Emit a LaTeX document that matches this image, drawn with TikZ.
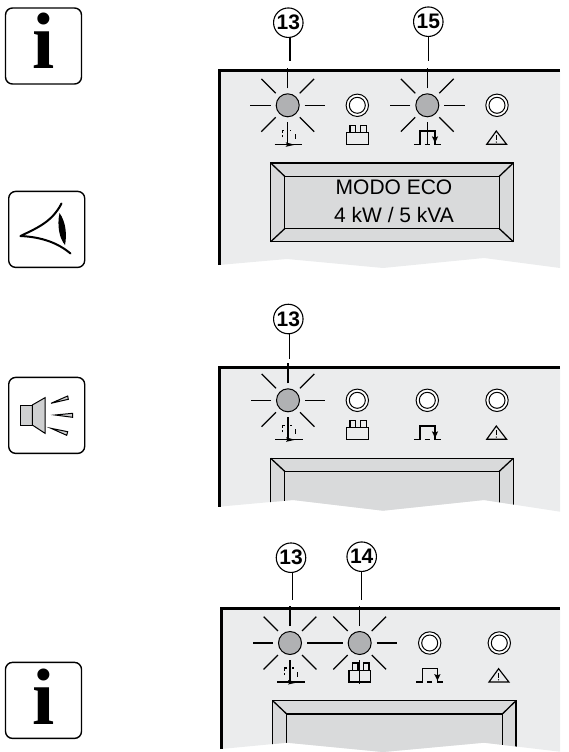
\documentclass[tikz,border=0pt]{standalone}
\usepackage{fontspec}
\setmainfont{Liberation Sans}
\newfontfamily\iconserif{Liberation Serif}
\definecolor{panelgray}{HTML}{EBECED}
\definecolor{dispgray}{HTML}{D9DADB}
\definecolor{ledgray}{HTML}{B0B1B3}
\definecolor{spkgray}{HTML}{CFD0D1}
\tikzset{
  ray/.style={line width=1.25pt},
  sym/.style={line width=1.15pt},
  frame/.style={line width=3pt},
  disp/.style={line width=1.3pt,draw=black},
  leader/.style={line width=1.1pt},
  callout/.style={circle,draw,line width=1.1pt,fill=white,minimum size=29.5pt,inner sep=0pt,font=\bfseries\fontsize{21}{21}\selectfont},
  iconbox/.style={draw,line width=1.4pt,rounded corners=7pt,fill=white},
  lcdtext/.style={font=\fontsize{21}{24}\selectfont,inner sep=0pt},
  bigi/.style={font=\iconserif\bfseries\fontsize{80}{80}\selectfont,inner sep=0pt,anchor=base}
}
\newcommand{\LedOn}[2]{\begin{scope}[shift={(#1,#2)}]
  \filldraw[fill=ledgray,line width=1pt] (0,0) circle[radius=11.5pt];
  \foreach \a in {0,45,90,135,180,225,315} \draw[ray] (\a:17pt) -- (\a:37.3pt);
\end{scope}}
\newcommand{\LedOff}[2]{\begin{scope}[shift={(#1,#2)}]
  \filldraw[fill=white,line width=1pt] (0,0) circle[radius=11.2pt];
  \draw[line width=1pt] (0,0) circle[radius=8pt];
\end{scope}}
\newcommand{\SymBypass}[2]{\begin{scope}[shift={(#1,#2)}]
  \draw[sym] (-13,39) -- (14.5,39);
  \draw[sym] (0,17) -- (0,39);
  \fill (-2,37) -- (7,39.5) -- (-2,41.5) -- (-.5,39.5) -- cycle;
  \draw[sym] (-5.5,32) -- (-5.5,29.5) (-5.5,27.5) -- (-5.5,25) -- (-3.5,25);
  \draw[sym] (2.2,25) -- (3.5,25) (7.5,29) -- (7.5,34);
\end{scope}}
\newcommand{\SymBatt}[2]{\begin{scope}[shift={(#1,#2)}]
  \draw[sym,line join=miter] (-10.7,27.3) rectangle (11,39);
  \draw[sym] (-7.3,27.3) -- (-7.3,20) -- (-1.7,20) -- (-1.7,27.3);
  \draw[sym] (3.5,27.3) -- (3.5,20) -- (9.3,20) -- (9.3,27.3);
\end{scope}}
\newcommand{\SymPulse}[2]{\begin{scope}[shift={(#1,#2)}]
  \draw[sym] (-13.5,39) -- (-7.3,39) -- (-7.3,25.7) -- (7.7,25.7) -- (7.7,39) -- (13.5,39);
  \draw[sym] (-2.7,39) -- (2.7,39);
  \fill (4.5,31) -- (7.7,37.5) -- (10.9,31) -- (7.7,32.3) -- cycle;
\end{scope}}
\newcommand{\SymWarn}[2]{\begin{scope}[shift={(#1,#2)}]
  \draw[sym,line join=miter] (-.7,25.7) -- (9.6,39) -- (-10.3,39) -- cycle;
  \draw[line width=1.1pt] (-.7,29.7) -- (-.7,34.7);
  \fill (-.7,36.8) circle[radius=.7pt];
\end{scope}}
\newcommand{\Bevel}[8]{% xo1 yo1 xi1 yi1 xi2 yi2 xo2 yo2
  \filldraw[disp,fill=dispgray] (#1,#2) rectangle (#7,#8);
  \draw[disp] (#3,#4) rectangle (#5,#6);
  \draw[disp] (#1,#2) -- (#3,#4) (#7,#2) -- (#5,#4) (#1,#8) -- (#3,#6) (#7,#8) -- (#5,#6);
}
\begin{document}
\begin{tikzpicture}[x=1pt,y=-1pt]
\useasboundingbox (0,0) rectangle (569,752);
% ---- icons
\node[iconbox,minimum width=76pt,minimum height=76pt,anchor=north west] (infoA) at (4.8,7.3) {};
\node[bigi] (infoAi) at (43.3,69) {i};
\node[iconbox,minimum width=76pt,minimum height=76pt,anchor=north west] (eyebox) at (8,190.7) {};
\draw[line width=2pt,line cap=round] (20.5,236) .. controls (37,228) and (52,222) .. (61.5,203.5);
\draw[line width=2pt,line cap=round] (20.5,236) .. controls (42,237) and (58,243) .. (70.5,253.5);
\fill (59.5,213) .. controls (57,225) and (59,238) .. (65,245) .. controls (67,235) and (66,222) .. cycle;
\node[iconbox,minimum width=76pt,minimum height=76pt,anchor=north west] (spkbox) at (8,376.7) {};
\begin{scope}[shift={(0,360)},line width=1pt]
  \filldraw[fill=spkgray] (20,45) rectangle (32.3,65);
  \filldraw[fill=spkgray] (32.3,45) -- (45,37.7) -- (45,73.3) -- (32.3,65) -- cycle;
  \filldraw[fill=spkgray] (51,43.3) -- (67.7,36) -- (68.3,39.3) -- cycle;
  \filldraw[fill=spkgray] (55,55) -- (72.7,53.3) -- (72.7,57.3) -- cycle;
  \filldraw[fill=spkgray] (51,68.3) -- (67.7,71.7) -- (66.7,75.3) -- cycle;
\end{scope}
\node[iconbox,minimum width=76pt,minimum height=76pt,anchor=north west] (infoB) at (4.8,661.7) {};
\node[bigi] (infoBi) at (43.3,724) {i};
% ---- panel 1
\fill[panelgray] (219,71) -- (560,71) -- (560,268) -- (484,258) -- (383,268) -- (287,259) -- (219,265) -- cycle;
\draw[frame] (219,265) -- (219,71) -- (560,71);
\LedOn{287.7}{105.3}\LedOff{357.3}{105.3}\LedOn{427.3}{105.3}\LedOff{497}{105.3}
\draw[ray] (287.7,122.3) -- (287.7,130);\draw[ray] (427.3,122.3) -- (427.3,144.3);
\SymBypass{287.7}{105.3}\SymBatt{357.3}{105.3}\SymPulse{427.3}{105.3}\SymWarn{497}{105.3}
\Bevel{270.7}{163}{284.7}{176.3}{499.3}{228.7}{513.3}{241.7}
\node[lcdtext] (lcdA) at (394,187.5) {MODO ECO};
\node[lcdtext] (lcdB) at (394,214.5) {4 kW / 5 kVA};
\node[callout] (c13a) at (288.3,22.7) {13};
\coordinate (c13aEnd) at (290,61);
\draw[leader] (c13a.south -| c13aEnd) -- (c13aEnd);
\node[callout] (c15a) at (428.3,21.7) {15};
\coordinate (c15aEnd) at (428.7,61);
\draw[leader] (c15a.south -| c15aEnd) -- (c15aEnd);
% ---- panel 2
\fill[panelgray] (219,367) -- (560,367) -- (560,511.7) -- (484,500) -- (383,510.7) -- (293,500) -- (219,506.7) -- cycle;
\begin{scope}
  \clip (219,367) -- (560,367) -- (560,511.7) -- (484,500) -- (383,510.7) -- (293,500) -- (219,506.7) -- cycle;
  \Bevel{270.7}{458.3}{284.7}{471.3}{499.3}{540}{513.3}{540}
\end{scope}
\draw[frame] (219,506.7) -- (219,367) -- (560,367);
\LedOn{288}{400.3}\LedOff{357.3}{400.3}\LedOff{427.3}{400.3}\LedOff{497}{400.3}
\draw[ray] (288,417.3) -- (288,425);
\SymBypass{288}{400.3}\SymBatt{357.3}{400.3}\SymPulse{427.3}{400.3}\SymWarn{497}{400.3}
\node[callout] (c13b) at (288.3,319) {13};
\coordinate (c13bEnd) at (289.7,359);
\draw[leader] (c13b.south -| c13bEnd) -- (c13bEnd);
% ---- panel 3
\fill[panelgray] (221,608.5) -- (560,608.5) -- (560,751.7) -- (484,742.7) -- (383,752) -- (287,742.7) -- (221,749) -- cycle;
\begin{scope}
  \clip (221,608.5) -- (560,608.5) -- (560,751.7) -- (484,742.7) -- (383,752) -- (287,742.7) -- (221,749) -- cycle;
  \Bevel{272.7}{700.7}{286.7}{714}{502.3}{780}{516}{780}
\end{scope}
\draw[frame] (221,749) -- (221,608.5) -- (560,608.5);
\LedOn{290}{643}\LedOn{359.7}{643}\LedOff{429.7}{643}\LedOff{499.3}{643}
\draw[ray] (290,660) -- (290,668);
\draw[ray] (359.7,660) -- (359.7,684);
\SymBypass{290}{643}\SymBatt{359.7}{643}\SymPulse{429.7}{643}\SymWarn{499.3}{643}
\node[callout] (c13c) at (291,557.7) {13};
\coordinate (c13cEnd) at (292.7,600);
\draw[leader] (c13c.south -| c13cEnd) -- (c13cEnd);
\node[callout] (c14c) at (361.7,556.7) {14};
\coordinate (c14cEnd) at (361.7,600);
\draw[leader] (c14c.south -| c14cEnd) -- (c14cEnd);
\end{tikzpicture}
\end{document}
